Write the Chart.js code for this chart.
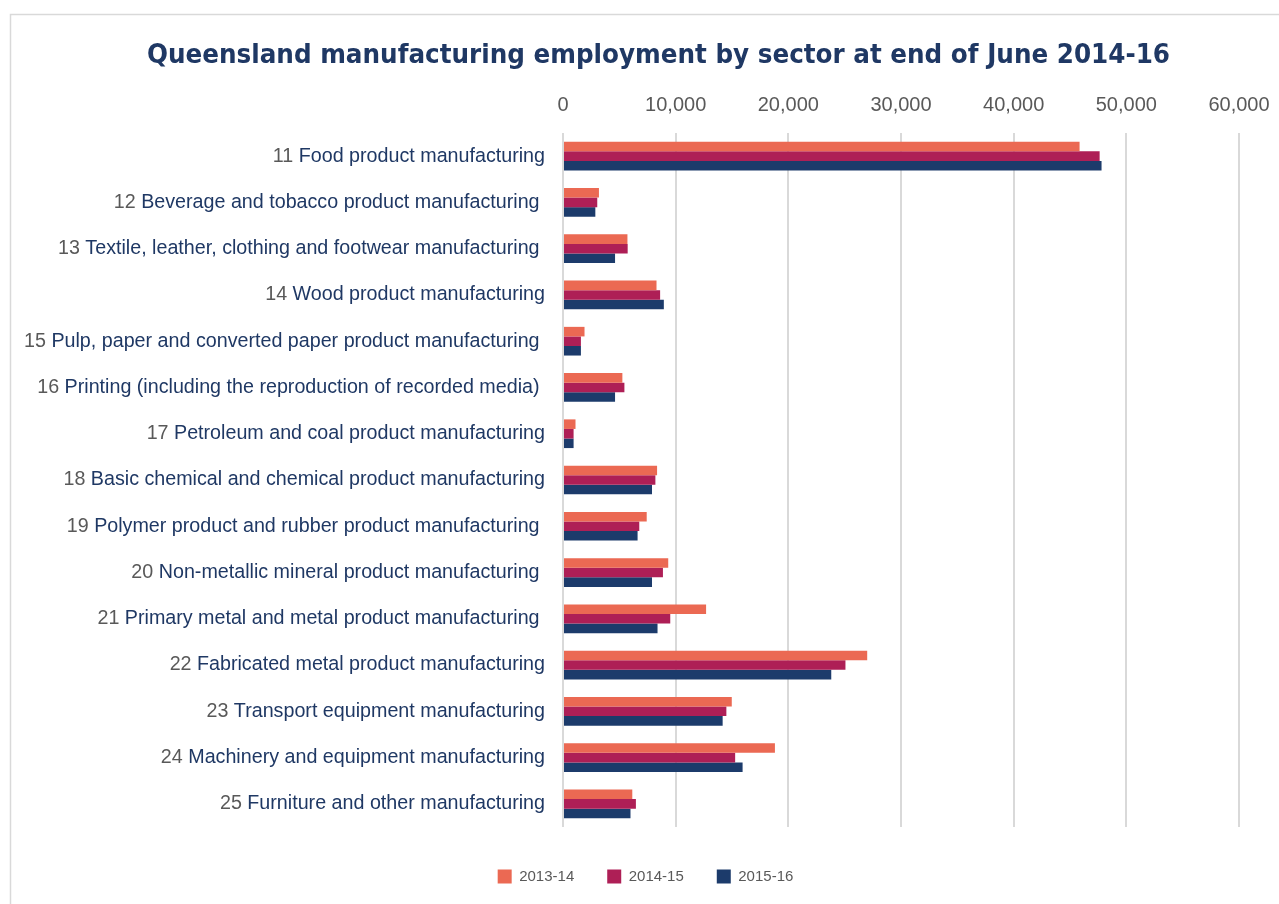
<!DOCTYPE html>
<html>
<head>
<meta charset="utf-8">
<script src="https://cdn.jsdelivr.net/npm/chart.js@4"></script>
<style>
  html, body { margin: 0; padding: 0; background: #ffffff; }
  #wrap { position: absolute; left: 0; top: 0; width: 1279px; height: 904px; }
</style>
</head>
<body>
<div id="wrap"><canvas id="c" width="1279" height="904"></canvas></div>
<script>
// Queensland manufacturing employment, persons at end of June
const categories = [
  "11 Food product manufacturing",
  "12 Beverage and tobacco product manufacturing ",
  "13 Textile, leather, clothing and footwear manufacturing ",
  "14 Wood product manufacturing",
  "15 Pulp, paper and converted paper product manufacturing ",
  "16 Printing (including the reproduction of recorded media) ",
  "17 Petroleum and coal product manufacturing",
  "18 Basic chemical and chemical product manufacturing",
  "19 Polymer product and rubber product manufacturing ",
  "20 Non-metallic mineral product manufacturing ",
  "21 Primary metal and metal product manufacturing ",
  "22 Fabricated metal product manufacturing",
  "23 Transport equipment manufacturing",
  "24 Machinery and equipment manufacturing",
  "25 Furniture and other manufacturing"
];
const seriesNames = ["2013-14", "2014-15", "2015-16"];
const emp201314 = [45850, 3190, 5720, 8300, 1910, 5270, 1110, 8350, 7430, 9340, 12700, 27000, 14980, 18810, 6150];
const emp201415 = [47630, 3040, 5740, 8620, 1590, 5450, 940, 8200, 6770, 8870, 9520, 25070, 14500, 15280, 6470];
const emp201516 = [47800, 2870, 4620, 8950, 1590, 4620, 940, 7900, 6620, 7900, 8390, 23810, 14170, 15940, 5990];
const axisMax = 60000;
const axisStep = 10000;
const chartTitle = "Queensland manufacturing employment by sector at end of June 2014-16";

const colours = ["#EB6953", "#AE1F56", "#1C3B6B"];
const navy = "#1F3864";
const grey = "#595959";
const labelFont = "19.7px 'Liberation Sans', Arial, sans-serif";

// Light frame around the chart, plus the bold title across the full width
const framePlugin = {
  id: "frame",
  beforeDraw(chart) {
    const ctx = chart.ctx;
    ctx.save();
    ctx.strokeStyle = "#D9D9D9";
    ctx.lineWidth = 1.5;
    ctx.strokeRect(10.5, 14.5, 1300, 1000);

    ctx.font = "bold 26px 'DejaVu Sans', sans-serif";
    const w = ctx.measureText(chartTitle).width;
    const target = 1023;
    ctx.translate(658.5, 63);
    ctx.scale(target / w, 1);
    ctx.fillStyle = navy;
    ctx.textAlign = "center";
    ctx.textBaseline = "alphabetic";
    ctx.fillText(chartTitle, 0, 0);
    ctx.restore();
  }
};

// Category labels: sector code in grey, sector name in navy
const labelPlugin = {
  id: "twoToneLabels",
  afterDraw(chart) {
    const ctx = chart.ctx;
    const y = chart.scales.y;
    const right = 545;
    ctx.save();
    ctx.font = labelFont;
    ctx.textBaseline = "middle";
    ctx.textAlign = "left";
    categories.forEach((label, i) => {
      const sp = label.indexOf(" ");
      const code = label.slice(0, sp);
      const name = label.slice(sp);
      const wCode = ctx.measureText(code).width;
      const wName = ctx.measureText(name).width;
      const py = y.getPixelForValue(i);
      const x0 = right - wCode - wName;
      ctx.fillStyle = grey;
      ctx.fillText(code, x0, py);
      ctx.fillStyle = navy;
      ctx.fillText(name, x0 + wCode, py);
    });
    ctx.restore();
  }
};

const series = [emp201314, emp201415, emp201516];

new Chart(document.getElementById("c"), {
  type: "bar",
  data: {
    labels: categories,
    datasets: series.map((vals, k) => ({
      label: seriesNames[k],
      data: vals,
      backgroundColor: colours[k],
      borderWidth: 0,
      barPercentage: 1.0,
      categoryPercentage: 0.62
    }))
  },
  options: {
    indexAxis: "y",
    responsive: false,
    animation: false,
    devicePixelRatio: 1,
    layout: { padding: { left: 52, right: 40, top: 77, bottom: 10 } },
    scales: {
      x: {
        position: "top",
        min: 0,
        max: axisMax,
        ticks: {
          stepSize: axisStep,
          color: grey,
          font: { family: "'Liberation Sans', Arial, sans-serif", size: 20 },
          padding: 16,
          callback: v => v.toLocaleString("en-AU")
        },
        grid: { color: "#D9D9D9", lineWidth: 2, drawTicks: false },
        border: { display: false },
        afterFit: s => { s.paddingRight = 0; s.paddingLeft = 0; }
      },
      gap: {
        type: "linear",
        axis: "x",
        position: "bottom",
        display: true,
        ticks: { display: false },
        grid: { display: false, drawTicks: false },
        border: { display: false },
        afterFit: s => { s.height = 9; }
      },
      y: {
        ticks: { display: false },
        grid: { display: false },
        border: { display: false },
        afterFit: s => { s.width = 511; }
      }
    },
    plugins: {
      title: { display: false },
      legend: {
        position: "bottom",
        labels: {
          boxWidth: 14,
          boxHeight: 14,
          color: grey,
          padding: 33,
          font: { family: "'Liberation Sans', Arial, sans-serif", size: 15 }
        }
      },
      tooltip: { enabled: false }
    }
  },
  plugins: [framePlugin, labelPlugin]
});
</script>
</body>
</html>
